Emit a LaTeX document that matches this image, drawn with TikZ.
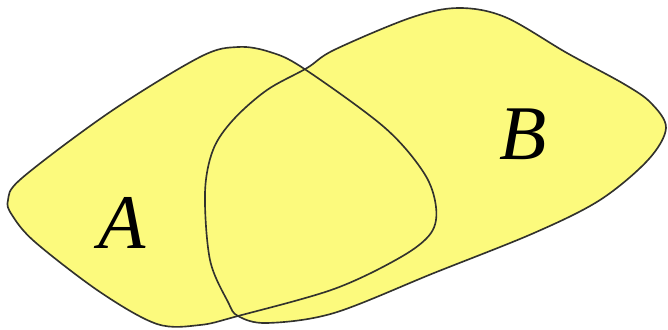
\documentclass[tikz,border=0pt]{standalone}
\usepackage{fontspec}
\setmainfont{Liberation Serif}
\begin{document}
\begin{tikzpicture}[x=0.03cm,y=-0.03cm,
  blobfill/.style={fill={rgb,255:red,252;green,250;blue,125}},
  blobline/.style={draw={rgb,255:red,50;green,50;blue,45},line width=1.4pt},
  setlabel/.style={font=\fontsize{66}{66}\selectfont\itshape,inner sep=0pt}]
\useasboundingbox (0,0) rectangle (668,329);
\def\shapeA{plot[smooth cycle,tension=0.55] coordinates {(8,200) (22,178) (110,112) (200,57) (238,47) (270,52) (303,68) (384,127) (424,173) (436,207) (431,233) (401,257) (334,289) (238,316) (200,325) (157,324) (100,292) (35,242) (12,215)}}
\def\shapeB{plot[smooth cycle,tension=0.55] coordinates {(238,316) (267,323) (334,313) (434,273) (534,233) (600,200) (648,160) (666,128) (651,103) (624,84) (567,53) (505,17) (458,8) (410,18) (334,50) (307,68) (267,90) (233,120) (213,150) (205,193) (210,260) (228,302)}}
\fill[blobfill] \shapeA;
\fill[blobfill] \shapeB;
\draw[blobline] \shapeA;
\draw[blobline] \shapeB;
\node[setlabel] (labA) at (122,223) {A};
\node[setlabel] (labB) at (523,134) {B};
\end{tikzpicture}
\end{document}
